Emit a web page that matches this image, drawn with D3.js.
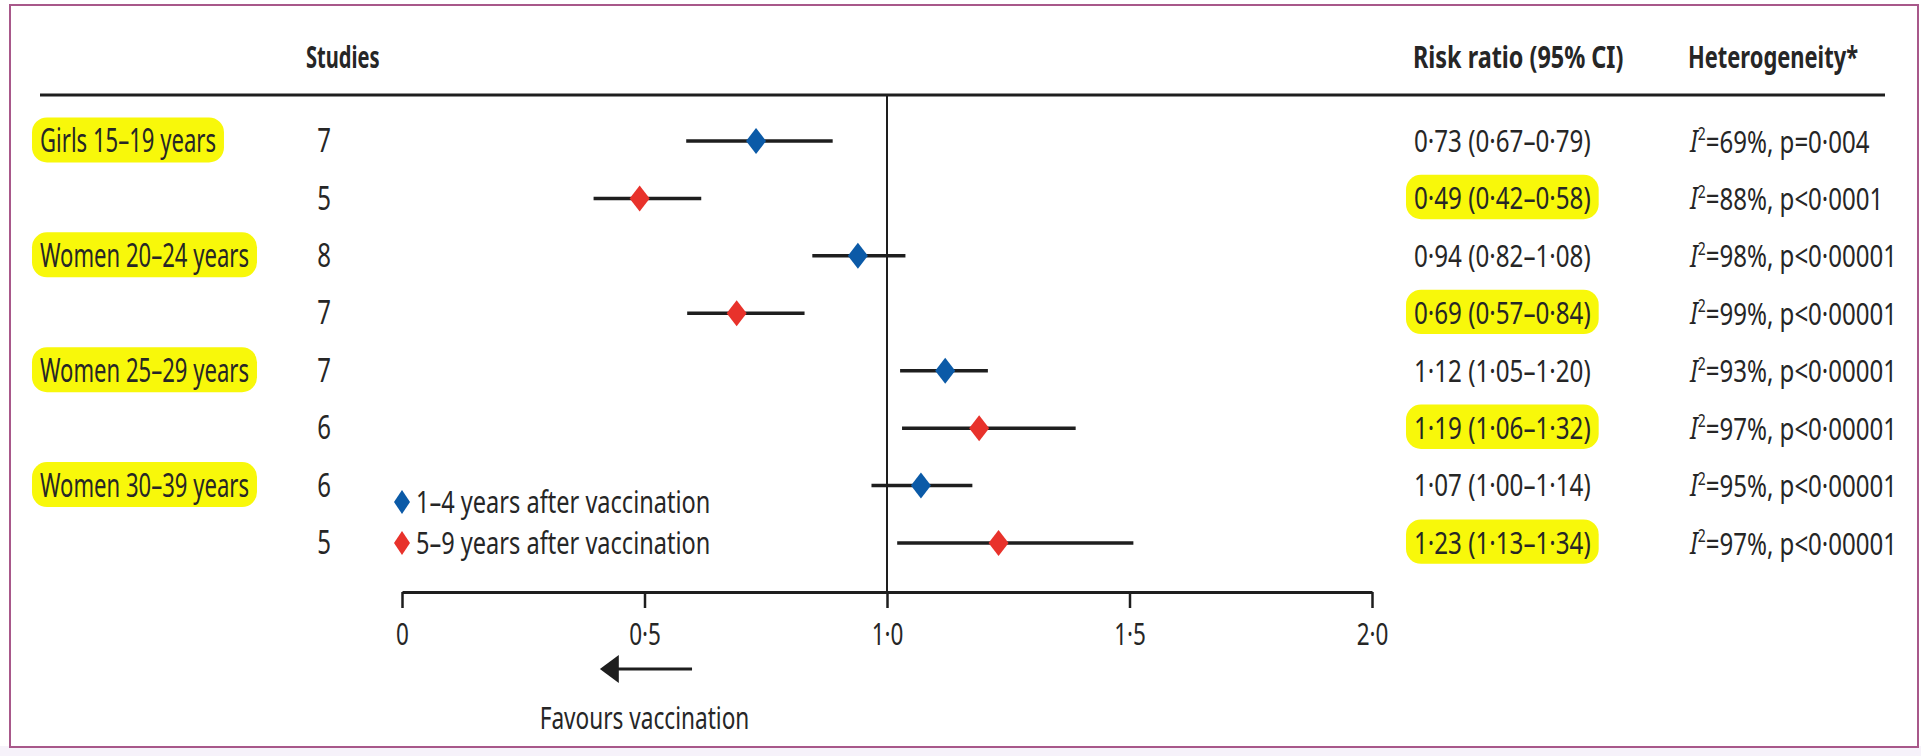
<!DOCTYPE html>
<html>
<head>
<meta charset="utf-8">
<script src="https://cdn.jsdelivr.net/npm/d3@7"></script>
<style>
  body { margin: 0; background: #fff; }
  svg { display: block; }
  text { font-family: "Noto Sans", "Open Sans", sans-serif; fill: #262626; }
</style>
</head>
<body>
<div class="forest"></div>
<script>
const ageGroups = ["Girls 15–19 years", "Women 20–24 years", "Women 25–29 years", "Women 30–39 years"];
const periods = ["1–4 years after vaccination", "5–9 years after vaccination"];
const studies = [7, 5, 8, 7, 7, 6, 6, 5];
const riskRatio = [0.73, 0.49, 0.94, 0.69, 1.12, 1.19, 1.07, 1.23];
// whiskers as drawn in the figure
const lower = [0.586, 0.395, 0.846, 0.588, 1.027, 1.031, 0.968, 1.021];
const upper = [0.888, 0.617, 1.038, 0.830, 1.208, 1.389, 1.176, 1.508];
const ciText = ["0·73 (0·67–0·79)", "0·49 (0·42–0·58)", "0·94 (0·82–1·08)", "0·69 (0·57–0·84)",
                "1·12 (1·05–1·20)", "1·19 (1·06–1·32)", "1·07 (1·00–1·14)", "1·23 (1·13–1·34)"];
const iSquared = [69, 88, 98, 99, 93, 97, 95, 97];
const pText = ["p=0·004", "p<0·0001", "p<0·00001", "p<0·00001", "p<0·00001", "p<0·00001", "p<0·00001", "p<0·00001"];
const xTicks = [0, 0.5, 1, 1.5, 2];

const width = 1921, height = 756;
const colors = ["#0b5aa7", "#e8322b"];
const yellow = "#f8f80a";
const ink = "#1e1e1e";

const rows = studies.map((n, i) => ({
  i: i,
  group: i % 2 === 0 ? ageGroups[i / 2] : null,
  period: i % 2,
  n: n, rr: riskRatio[i], lo: lower[i], hi: upper[i],
  ci: ciText[i], i2: iSquared[i], p: pText[i]
}));

const svg = d3.select(".forest").append("svg")
  .attr("width", width)
  .attr("height", height);

// the page font is wider than the original condensed face, so squeeze text horizontally
function squeeze(sel, k) {
  sel.each(function() {
    const x0 = +this.getAttribute("x") || 0;
    this.__k = k;
    d3.select(this).attr("transform", `translate(${x0 * (1 - k)},0) scale(${k},1)`);
  });
}

// yellow marker behind a text
function highlight(sel) {
  sel.each(function() {
    const b = this.getBBox();
    const k = this.__k || 1;
    const x0 = +this.getAttribute("x") || 0;
    d3.select(this.parentNode).insert("rect", () => this)
      .attr("x", x0 + (b.x - x0) * k - 8).attr("y", b.y - 1)
      .attr("width", b.width * k + 16).attr("height", b.height + 2)
      .attr("rx", 15)
      .attr("fill", yellow);
  });
}

// frame
svg.append("rect").attr("x", 0).attr("y", height - 10).attr("width", width).attr("height", 10).attr("fill", "#f6f2fa");
svg.append("rect")
  .attr("x", 10).attr("y", 5).attr("width", 1908).attr("height", 742)
  .attr("fill", "#fff").attr("stroke", "#a8588a").attr("stroke-width", 2);

const x = d3.scaleLinear().domain([0, 2]).range([402, 1372]);
const y = d3.scalePoint().domain(rows.map(d => d.i)).range([141, 543]);

// headers
const header = svg.append("g").attr("font-size", 30).attr("font-weight", 700);
header.append("text").attr("x", 306).attr("y", 58).attr("dy", "0.35em").text("Studies").call(squeeze, 0.67);
header.append("text").attr("x", 1413).attr("y", 58).attr("dy", "0.35em").text("Risk ratio (95% CI)").call(squeeze, 0.78);
header.append("text").attr("x", 1688).attr("y", 58).attr("dy", "0.35em").text("Heterogeneity*").call(squeeze, 0.73);

svg.append("line")
  .attr("x1", 40).attr("x2", 1885).attr("y1", 95).attr("y2", 95)
  .attr("stroke", ink).attr("stroke-width", 3);

const body = svg.append("g").attr("font-size", 32);

// age group labels
body.selectAll(".group")
  .data(rows.filter(d => d.group))
  .join("text")
  .attr("class", "group")
  .attr("x", 40).attr("y", d => y(d.i)).attr("dy", "0.35em")
  .text(d => d.group)
  .call(squeeze, 0.69)
  .call(highlight);

// number of studies
body.selectAll(".nstud")
  .data(rows)
  .join("text")
  .attr("class", "nstud")
  .attr("x", 324).attr("y", d => y(d.i)).attr("dy", "0.35em")
  .attr("text-anchor", "middle")
  .text(d => d.n)
  .call(squeeze, 0.75);

// risk ratio text
body.selectAll(".ci")
  .data(rows)
  .join("text")
  .attr("class", "ci")
  .attr("x", 1414).attr("y", d => y(d.i)).attr("dy", "0.35em")
  .attr("font-size", 31)
  .text(d => d.ci)
  .call(squeeze, 0.78)
  .filter(d => d.period === 1)
  .call(highlight);

// heterogeneity text
const het = body.selectAll(".het")
  .data(rows)
  .join("text")
  .attr("class", "het")
  .attr("x", 1690).attr("y", d => y(d.i)).attr("dy", "0.35em")
  .attr("font-size", 31);
het.append("tspan").attr("font-style", "italic").text("I");
het.append("tspan").attr("font-size", 18).attr("dy", "-0.65em").text("2");
het.append("tspan").attr("dy", "0.4em").text(d => "=" + d.i2 + "%, " + d.p);
het.call(squeeze, 0.775);

// reference line at 1
svg.append("line")
  .attr("x1", x(1)).attr("x2", x(1)).attr("y1", 95).attr("y2", 592)
  .attr("stroke", ink).attr("stroke-width", 2);

// axis
const axis = svg.append("g")
  .attr("transform", "translate(0,592)")
  .call(d3.axisBottom(x).tickValues(xTicks).tickSize(16).tickSizeOuter(0)
    .tickFormat(d => d === 0 ? "0" : d3.format(".1f")(d).replace(".", "·")));
axis.attr("font-family", null).attr("font-size", null);
axis.select(".domain").attr("stroke", ink).attr("stroke-width", 3);
axis.selectAll(".tick line").attr("stroke", ink).attr("stroke-width", 2.5);
axis.selectAll(".tick text")
  .attr("font-size", 30).attr("fill", "#262626")
  .attr("y", 32)
  .call(squeeze, 0.75);

// whiskers
const marks = svg.append("g");
marks.selectAll(".whisker")
  .data(rows)
  .join("line")
  .attr("class", "whisker")
  .attr("x1", d => x(d.lo)).attr("x2", d => x(d.hi))
  .attr("y1", d => y(d.i)).attr("y2", d => y(d.i))
  .attr("stroke", ink).attr("stroke-width", 3.5);

const diamond = (w, h) => `M0,${-h}L${w},0L0,${h}L${-w},0Z`;

marks.selectAll(".est")
  .data(rows)
  .join("path")
  .attr("class", "est")
  .attr("d", diamond(10, 13))
  .attr("transform", d => `translate(${x(d.rr)},${y(d.i)})`)
  .attr("fill", d => colors[d.period]);

// legend
const legend = svg.append("g").attr("font-size", 31);
const leg = legend.selectAll("g")
  .data(periods)
  .join("g")
  .attr("transform", (d, i) => `translate(${x(0)},${i === 0 ? 502 : 543})`);
leg.append("path").attr("d", diamond(8, 12)).attr("fill", (d, i) => colors[i]);
leg.append("text").attr("x", 14).attr("dy", "0.35em").text(d => d).call(squeeze, 0.76);

// favours arrow
const arrowY = 669;
svg.append("line")
  .attr("x1", x(0.598)).attr("x2", x(0.44)).attr("y1", arrowY).attr("y2", arrowY)
  .attr("stroke", ink).attr("stroke-width", 3);
svg.append("path")
  .attr("d", `M${x(0.408)},${arrowY}L${x(0.447)},${arrowY - 14}L${x(0.447)},${arrowY + 14}Z`)
  .attr("fill", ink);
svg.append("text")
  .attr("x", x(0.5)).attr("y", 718).attr("dy", "0.35em")
  .attr("text-anchor", "middle").attr("font-size", 31)
  .text("Favours vaccination")
  .call(squeeze, 0.73);
</script>
</body>
</html>
